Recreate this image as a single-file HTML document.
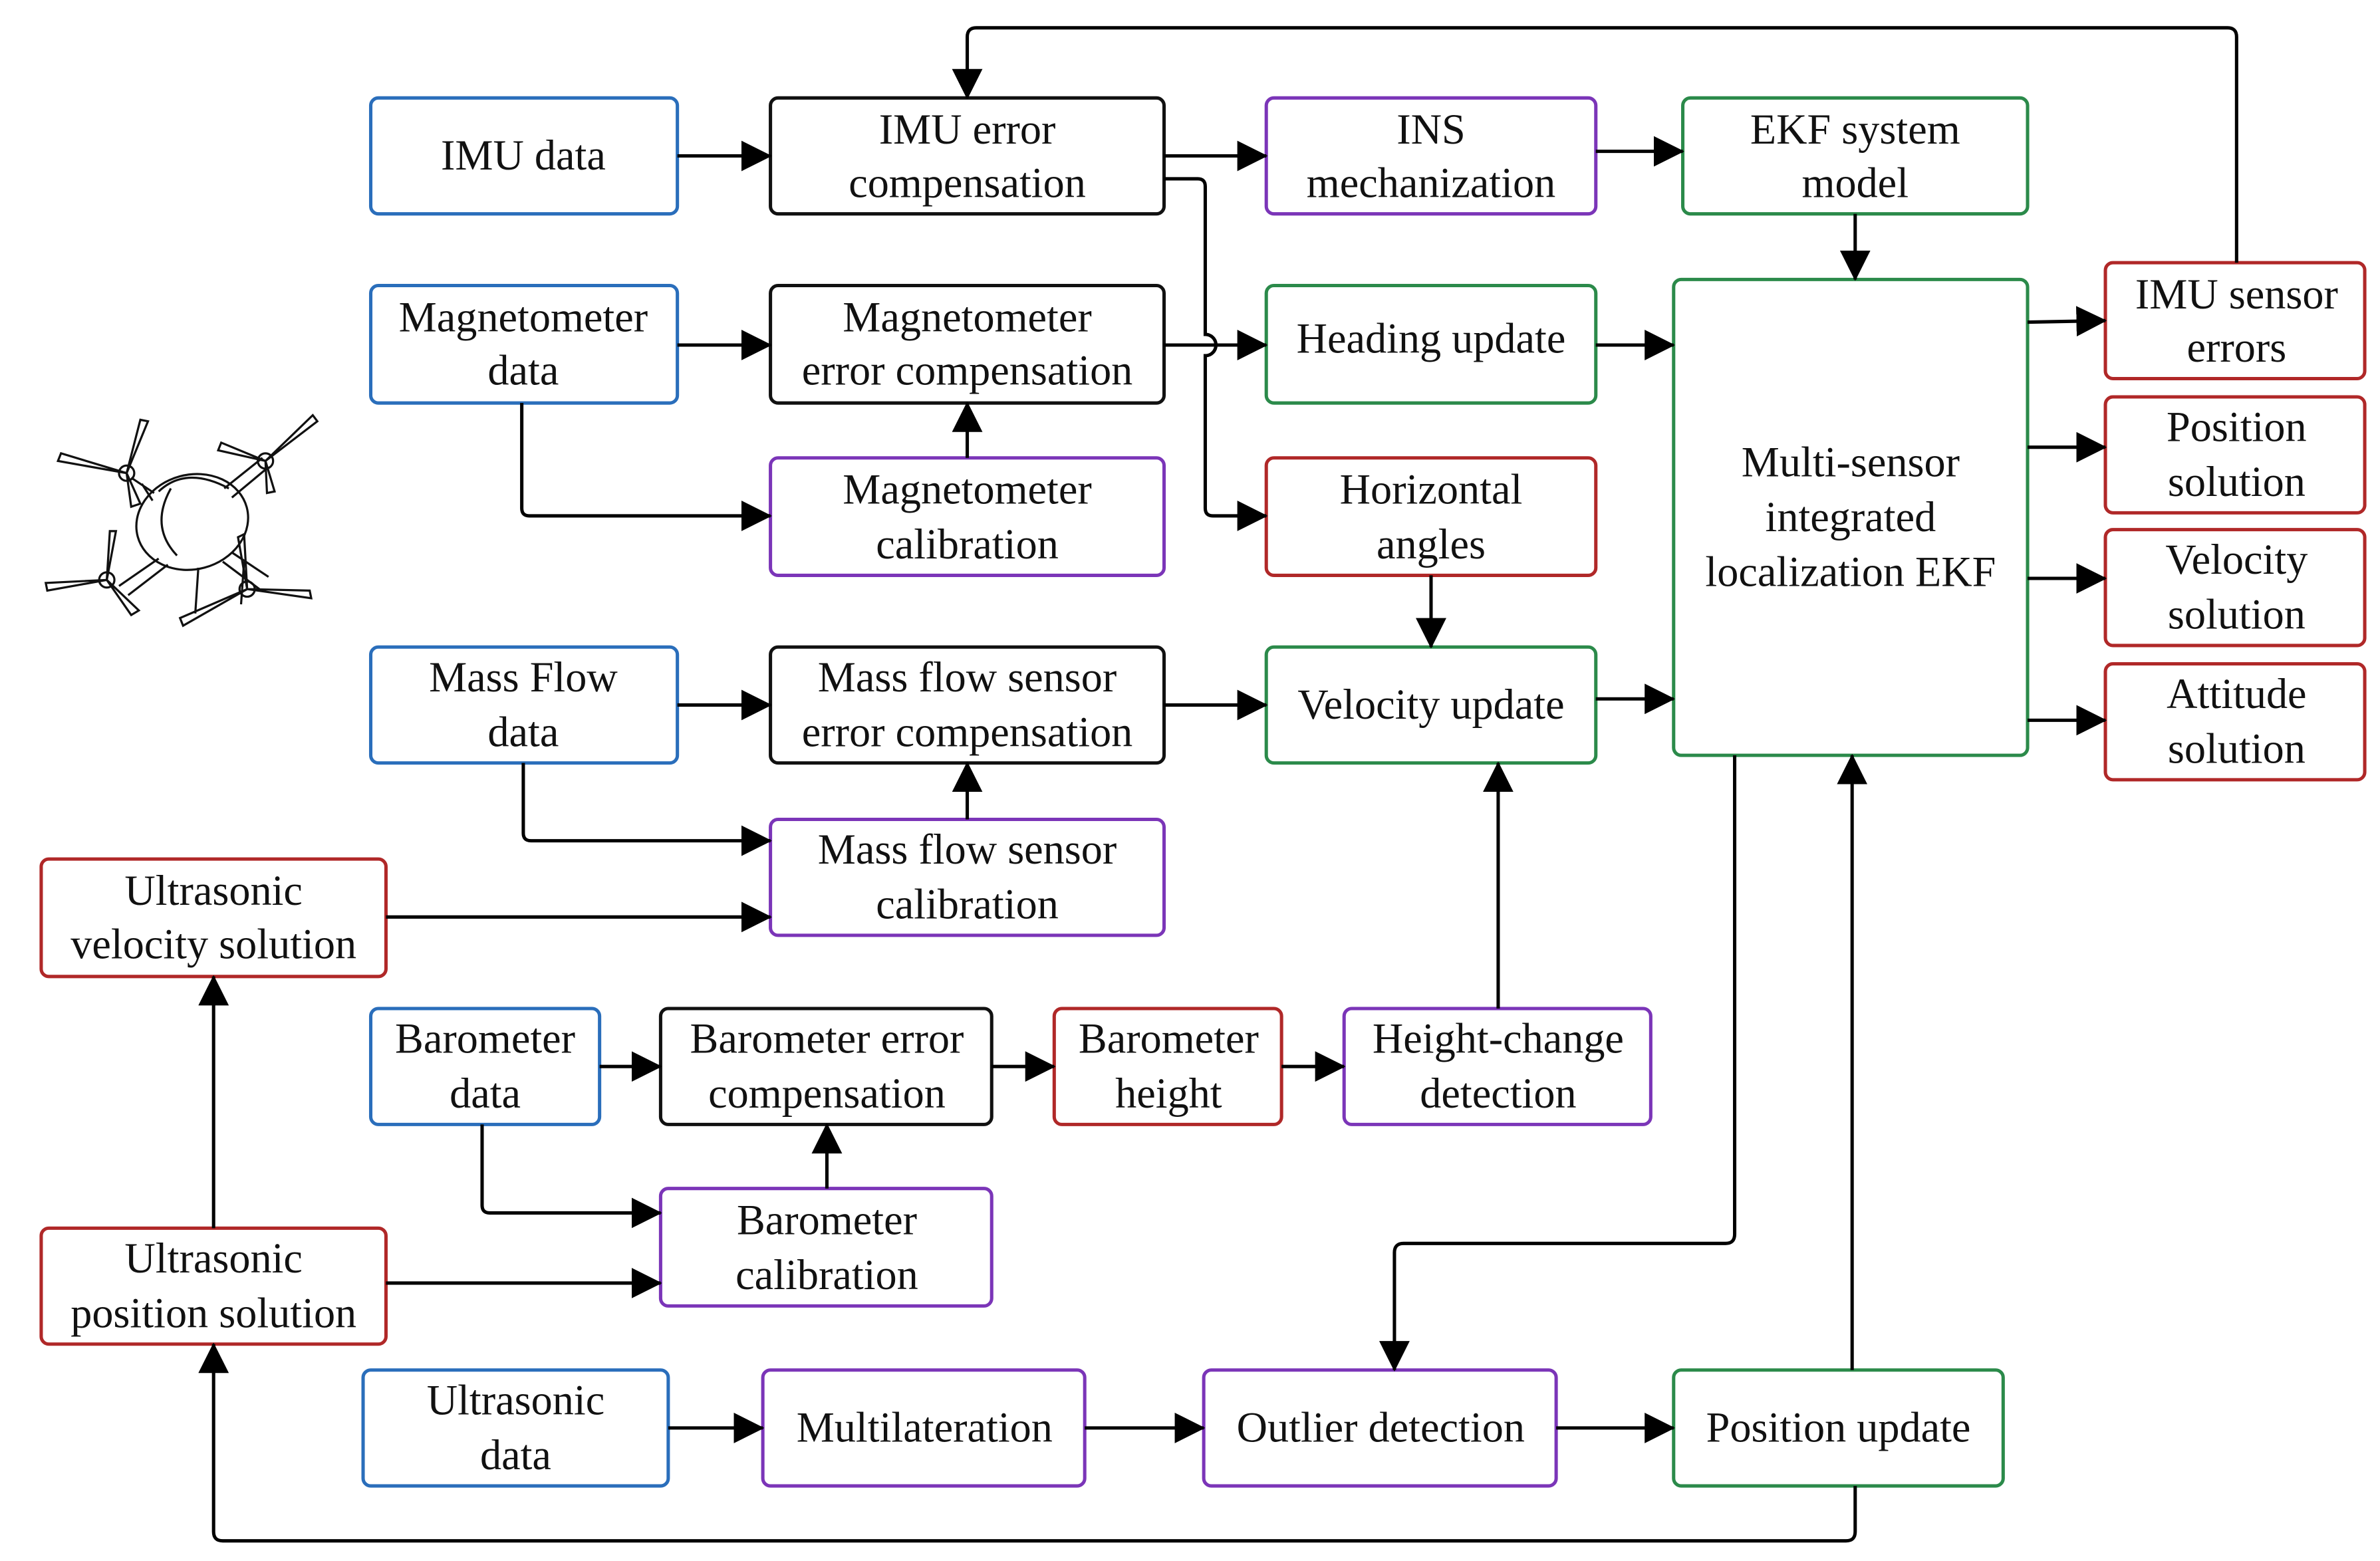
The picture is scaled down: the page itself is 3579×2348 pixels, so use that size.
<!DOCTYPE html>
<html><head><meta charset="utf-8"><style>
html,body{margin:0;padding:0;background:#fff;}
svg{display:block;}
text{font-family:"Liberation Serif",serif;font-size:28px;fill:#111;text-anchor:middle;}
</style></head><body>
<svg width="3579" height="2348" viewBox="0 0 1560 1023" xmlns="http://www.w3.org/2000/svg">
<defs>
<marker id="a" markerWidth="20" markerHeight="20" refX="19" refY="10" orient="auto" markerUnits="userSpaceOnUse">
<path d="M0,0 L20,10 L0,20 Z" fill="#000"/></marker>
</defs>
<g fill="none" stroke-width="2.2">
<g stroke="#2a6ebb">
<rect x="243" y="64" width="201" height="76" rx="5"/>
<rect x="243" y="187" width="201" height="77" rx="5"/>
<rect x="243" y="424" width="201" height="76" rx="5"/>
<rect x="243" y="661" width="150" height="76" rx="5"/>
<rect x="238" y="898" width="200" height="76" rx="5"/>
</g>
<g stroke="#111">
<rect x="505" y="64" width="258" height="76" rx="5"/>
<rect x="505" y="187" width="258" height="77" rx="5"/>
<rect x="505" y="424" width="258" height="76" rx="5"/>
<rect x="433" y="661" width="217" height="76" rx="5"/>
</g>
<g stroke="#7b35b8">
<rect x="830" y="64" width="216" height="76" rx="5"/>
<rect x="505" y="300" width="258" height="77" rx="5"/>
<rect x="505" y="537" width="258" height="76" rx="5"/>
<rect x="881" y="661" width="201" height="76" rx="5"/>
<rect x="433" y="779" width="217" height="77" rx="5"/>
<rect x="500" y="898" width="211" height="76" rx="5"/>
<rect x="789" y="898" width="231" height="76" rx="5"/>
</g>
<g stroke="#2b8a4a">
<rect x="1103" y="64" width="226" height="76" rx="5"/>
<rect x="830" y="187" width="216" height="77" rx="5"/>
<rect x="830" y="424" width="216" height="76" rx="5"/>
<rect x="1097" y="183" width="232" height="312" rx="5"/>
<rect x="1097" y="898" width="216" height="76" rx="5"/>
</g>
<g stroke="#b02828">
<rect x="830" y="300" width="216" height="77" rx="5"/>
<rect x="1380" y="172" width="170" height="76" rx="5"/>
<rect x="1380" y="260" width="170" height="76" rx="5"/>
<rect x="1380" y="347" width="170" height="76" rx="5"/>
<rect x="1380" y="435" width="170" height="76" rx="5"/>
<rect x="27" y="563" width="226" height="77" rx="5"/>
<rect x="691" y="661" width="149" height="76" rx="5"/>
<rect x="27" y="805" width="226" height="76" rx="5"/>
</g>
<g stroke="#000" marker-end="url(#a)">
<path d="M444,102 H505"/>
<path d="M763,102 H830"/>
<path d="M763,117 H785 Q790,117 790,122 V219 A7,7 0 0 1 790,233 V333 Q790,338 795,338 H830"/>
<path d="M1046,99 H1103"/>
<path d="M1216,140 V183"/>
<path d="M444,226 H505"/>
<path d="M763,226 H830"/>
<path d="M342,264 V333 Q342,338 347,338 H505"/>
<path d="M634,300 V264"/>
<path d="M1046,226 H1097"/>
<path d="M938,377 V424"/>
<path d="M1329,211 L1380,210"/>
<path d="M1329,293 H1380"/>
<path d="M1329,379 H1380"/>
<path d="M1329,472 H1380"/>
<path d="M1466,172 V24 Q1466,18 1460,18 H640 Q634,18 634,24 V64"/>
<path d="M444,462 H505"/>
<path d="M763,462 H830"/>
<path d="M1046,458 H1097"/>
<path d="M343,500 V546 Q343,551 348,551 H505"/>
<path d="M634,537 V500"/>
<path d="M253,601 H505"/>
<path d="M393,699 H433"/>
<path d="M650,699 H691"/>
<path d="M840,699 H881"/>
<path d="M982,661 V500"/>
<path d="M316,737 V790 Q316,795 321,795 H433"/>
<path d="M542,779 V737"/>
<path d="M253,841 H433"/>
<path d="M140,805 V640"/>
<path d="M438,936 H500"/>
<path d="M711,936 H789"/>
<path d="M1020,936 H1097"/>
<path d="M1137,495 V809 Q1137,815 1131,815 H920 Q914,815 914,821 V898"/>
<path d="M1214,898 V495"/>
<path d="M1216,974 V1004 Q1216,1010 1210,1010 H146 Q140,1010 140,1004 V881"/>
</g>
<!-- drone -->
<g stroke="#111" stroke-width="1.4">
<ellipse cx="126" cy="342" rx="37" ry="31" transform="rotate(-15 126 342)"/>
<path d="M104,322 Q122,305 150,320 M112,320 Q98,345 116,364"/>
<path d="M101,323 L86,313 M93,317 L100,328"/>
<path d="M147,320 L172,300 M152,326 L176,306"/>
<path d="M104,366 L78,384 M110,370 L84,390"/>
<path d="M152,362 L176,378 M146,368 L170,386"/>
<path d="M160,368 L158,396 M130,372 L128,402"/>
<!-- props -->
<circle cx="83" cy="310" r="5"/>
<path d="M83,310 L97,276 L92,275 Z M83,310 L40,297 L38,302 Z M83,310 L92,330 L86,332 Z"/>
<circle cx="174" cy="302" r="5"/>
<path d="M174,302 L205,272 L208,276 Z M174,302 L145,290 L143,295 Z M174,302 L180,322 L175,323 Z"/>
<circle cx="70" cy="380" r="5"/>
<path d="M70,380 L30,382 L31,387 Z M70,380 L86,403 L91,400 Z M70,380 L76,348 L72,348 Z"/>
<circle cx="162" cy="386" r="5"/>
<path d="M162,386 L204,392 L203,387 Z M162,386 L160,350 L156,352 Z M162,386 L118,405 L120,410 Z"/>
</g>
</g>
<text x="343" y="111">IMU data</text>
<text x="634" y="94">IMU error</text><text x="634" y="129">compensation</text>
<text x="938" y="94">INS</text><text x="938" y="129">mechanization</text>
<text x="1216" y="94">EKF system</text><text x="1216" y="129">model</text>
<text x="343" y="217">Magnetometer</text><text x="343" y="252">data</text>
<text x="634" y="217">Magnetometer</text><text x="634" y="252">error compensation</text>
<text x="938" y="231">Heading update</text>
<text x="634" y="330">Magnetometer</text><text x="634" y="366">calibration</text>
<text x="938" y="330">Horizontal</text><text x="938" y="366">angles</text>
<text x="1213" y="312">Multi-sensor</text><text x="1213" y="348">integrated</text><text x="1213" y="384">localization EKF</text>
<text x="1466" y="202">IMU sensor</text><text x="1466" y="237">errors</text>
<text x="1466" y="289">Position</text><text x="1466" y="325">solution</text>
<text x="1466" y="376">Velocity</text><text x="1466" y="412">solution</text>
<text x="1466" y="464">Attitude</text><text x="1466" y="500">solution</text>
<text x="343" y="453">Mass Flow</text><text x="343" y="489">data</text>
<text x="634" y="453">Mass flow sensor</text><text x="634" y="489">error compensation</text>
<text x="938" y="471">Velocity update</text>
<text x="634" y="566">Mass flow sensor</text><text x="634" y="602">calibration</text>
<text x="140" y="593">Ultrasonic</text><text x="140" y="628">velocity solution</text>
<text x="318" y="690">Barometer</text><text x="318" y="726">data</text>
<text x="542" y="690">Barometer error</text><text x="542" y="726">compensation</text>
<text x="766" y="690">Barometer</text><text x="766" y="726">height</text>
<text x="982" y="690">Height-change</text><text x="982" y="726">detection</text>
<text x="542" y="809">Barometer</text><text x="542" y="845">calibration</text>
<text x="140" y="834">Ultrasonic</text><text x="140" y="870">position solution</text>
<text x="338" y="927">Ultrasonic</text><text x="338" y="963">data</text>
<text x="606" y="945">Multilateration</text>
<text x="905" y="945">Outlier detection</text>
<text x="1205" y="945">Position update</text>
</svg>
</body></html>
